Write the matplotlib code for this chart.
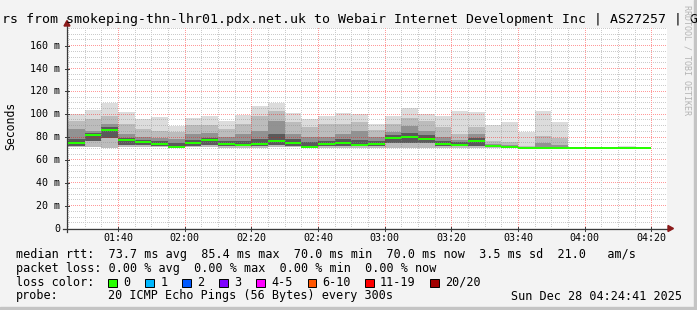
import numpy as np
import matplotlib
matplotlib.use("Agg")
import matplotlib.pyplot as plt
import matplotlib.patches as mpatches
from matplotlib.lines import Line2D

W, H = 697, 310
MONO = "DejaVu Sans Mono"


def fx(x):
    return x / W


def fy(y):
    return 1 - y / H


# 5 minute rrd steps, first one starts 01:25, graph covers 01:24:41 - 04:24:41
slot_start = 85
slot_len = 5
view_start = 84 + 41 / 60
view_end = view_start + 180

# median rtt per step (ms)
median = [74.2, 81.4, 85.4, 77.0, 75.3, 73.3, 71.3, 74.2, 76.8, 73.3,
          72.7, 73.3, 76.2, 74.5, 71.3, 73.3, 74.5, 72.7, 73.3, 78.8,
          79.7, 78.0, 73.3, 73.0, 76.2, 71.6, 71.3, 70.1, 70.1, 70.1,
          70.0, 70.0, 70.0, 70.0, 70.0]
# smoke: outermost to innermost band limits (ms)
ping_max = [99.5, 103.0, 109.5, 101.7, 95.0, 97.0, 89.0, 96.0, 98.0, 93.3,
            98.5, 107.0, 109.0, 101.0, 95.0, 98.0, 101.0, 100.0, 91.3, 98.0,
            105.2, 100.0, 98.0, 102.3, 101.4, 89.8, 92.7, 84.0, 102.3, 92.7,
            70.0, 70.0, 70.0, 72.0, 70.0]
upper2 = [94.0, 95.0, 98.0, 91.0, 86.6, 85.0, 84.0, 90.0, 90.0, 87.0,
          91.0, 98.0, 102.6, 92.4, 88.0, 91.0, 91.0, 93.0, 86.0, 91.0,
          96.5, 93.5, 88.0, 82.0, 88.0, 76.0, 75.0, 72.0, 80.6, 79.0,
          70.0, 70.0, 70.0, 70.0, 70.0]
upper3 = [86.6, 85.0, 91.0, 82.0, 79.5, 79.0, 78.0, 82.0, 83.0, 80.0,
          82.0, 85.0, 93.9, 82.0, 80.0, 80.0, 82.0, 85.0, 80.0, 84.0,
          89.0, 85.0, 80.0, 77.0, 82.0, 73.5, 73.0, 71.0, 74.0, 73.0,
          70.0, 70.0, 70.0, 70.0, 70.0]
upper4 = [78.0, 83.0, 88.0, 79.0, 77.0, 76.0, 74.0, 77.0, 79.0, 76.0,
          76.0, 78.0, 82.0, 77.5, 75.0, 76.0, 78.0, 77.0, 76.0, 81.0,
          83.0, 81.0, 76.0, 75.0, 79.0, 72.5, 72.0, 70.6, 71.0, 71.0,
          70.0, 70.0, 70.0, 70.0, 70.0]
lower_in = [72.0, 76.0, 79.0, 73.0, 72.5, 72.0, 70.5, 72.0, 73.0, 71.5,
            71.5, 71.5, 72.5, 72.0, 70.5, 71.5, 72.0, 71.5, 71.5, 74.0,
            74.0, 74.0, 71.5, 71.5, 72.0, 70.8, 70.6, 70.0, 70.0, 70.0,
            70.0, 70.0, 70.0, 70.0, 70.0]
ping_min = [70.5, 70.5, 70.0, 70.5, 71.0, 71.0, 70.0, 71.0, 71.0, 70.4,
            70.4, 70.0, 71.0, 71.0, 70.0, 70.4, 70.4, 70.4, 70.4, 70.4,
            70.4, 70.4, 70.4, 70.4, 70.4, 70.2, 70.2, 70.0, 70.0, 70.0,
            70.0, 70.0, 70.0, 70.0, 70.0]

tick_labels = ["01:40", "02:00", "02:20", "02:40", "03:00",
               "03:20", "03:40", "04:00", "04:20"]
tick_minutes = [int(t[:2]) * 60 + int(t[3:]) for t in tick_labels]

legend_rtt = ("median rtt:  73.7 ms avg  85.4 ms max  70.0 ms min  "
              "70.0 ms now  3.5 ms sd  21.0   am/s")
legend_loss = "packet loss: 0.00 % avg  0.00 % max  0.00 % min  0.00 % now"
loss_labels = ["0", "1", "2", "3", "4-5", "6-10", "11-19", "20/20"]
loss_colors = ["#26ff00", "#00b8ff", "#0059ff", "#7e00ff",
               "#ff00ff", "#ff5500", "#ff0000", "#a10000"]
loss_box_x = [108, 145.3, 182, 219, 256.4, 307.6, 365, 430]

fig = plt.figure(figsize=(W / 100, H / 100), dpi=100)
fig.patch.set_facecolor("#f3f3f3")

# graph area is 600 x 200 px, bottom edge on pixel row 228
GL, GB, GW, GH = 67, 228, 600, 200
rect = [fx(GL), fy(GB), GW / W, GH / H]


def setup(a):
    a.set_xlim(view_start, view_end)
    a.set_ylim(0, 175)
    for s in a.spines.values():
        s.set_visible(False)
    a.set_xticks([])
    a.set_yticks([])


ax = fig.add_axes(rect, zorder=0)
ax.set_facecolor("white")
setup(ax)

n = len(median)
x = slot_start + slot_len * np.arange(n)
med = np.array(median)
bands = [
    (ping_min, ping_max, "#dcdcdc"),
    (ping_min, upper2, "#bcbcbc"),
    (lower_in, upper3, "#929292"),
    (lower_in, upper4, "#5a5a5a"),
]
for lo, hi, col in bands:
    lo = np.array(lo)
    hi = np.array(hi)
    ax.bar(x, hi - lo, bottom=lo, width=slot_len, align="edge",
           color=col, linewidth=0)

# rrdtool style dotted grid, placed pixel exact over the smoke
grid = np.zeros((GH, GW, 4))
minor = (0.55, 0.55, 0.55, 0.45)
major = (1.0, 0.0, 0.0, 0.4)
for v in range(5, 176, 5):
    row = int(round(GH - v * GH / 175))
    if 0 <= row < GH:
        grid[row, ::2] = major if v % 20 == 0 else minor
for m in range(slot_start, int(view_end) + 1, 5):
    col = int(round((m - view_start) * GW / 180))
    if 0 <= col < GW:
        grid[::2, col] = major if m % 20 == 0 else minor
fig.figimage(grid, xo=GL, yo=H - GB, origin="upper", zorder=1)

# median line in a transparent axes above the grid
ax2 = fig.add_axes(rect, zorder=2)
ax2.patch.set_alpha(0)
setup(ax2)
ax2.bar(x, 1.75, bottom=med - 0.875, width=slot_len, align="edge",
        color="#26ff00", linewidth=0)

# axes with arrows
axis_col = "#3a3a3a"
arrow_col = "#8b1a1a"
fig.add_artist(Line2D([fx(63), fx(669)], [fy(228.5), fy(228.5)],
                      color=axis_col, lw=0.9, transform=fig.transFigure,
                      zorder=3))
fig.add_artist(Line2D([fx(67), fx(67)], [fy(231.5), fy(24)],
                      color=axis_col, lw=0.9, transform=fig.transFigure,
                      zorder=3))
fig.add_artist(mpatches.Polygon([[fx(673.5), fy(228.5)], [fx(668), fy(225.5)],
                                 [fx(668), fy(231.5)]], closed=True,
                                color=arrow_col, transform=fig.transFigure,
                                zorder=3))
fig.add_artist(mpatches.Polygon([[fx(67), fy(20.5)], [fx(64), fy(26)],
                                 [fx(70), fy(26)]], closed=True,
                                color=arrow_col, transform=fig.transFigure,
                                zorder=3))

# tick labels
for v in range(0, 161, 20):
    yy = 228.5 - v * GH / 175
    lab = "0" if v == 0 else "%d m" % v
    fig.text(fx(60), fy(yy), lab, ha="right", va="center",
             family=MONO, fontsize=7.2, color="black")
    fig.add_artist(Line2D([fx(65), fx(69)], [fy(yy), fy(yy)],
                          color=axis_col, lw=0.7, transform=fig.transFigure,
                          zorder=3))
for m, lab in zip(tick_minutes, tick_labels):
    xx = GL + (m - view_start) * GW / 180
    fig.text(fx(xx), fy(238.3), lab, ha="center", va="center",
             family=MONO, fontsize=7.2, color="black")
    fig.add_artist(Line2D([fx(xx), fx(xx)], [fy(226.5), fy(230.5)],
                          color=axis_col, lw=0.7, transform=fig.transFigure,
                          zorder=3))

# title (clipped by the canvas like the original)
fig.text(fx(1.5), fy(20), "rs from smokeping-thn-lhr01.pdx.net.uk to Webair "
         "Internet Development Inc | AS27257 | G", ha="left", va="center",
         family=MONO, fontsize=9.5, color="black")
fig.text(fx(10.5), fy(126), "Seconds", rotation=90, ha="center", va="center",
         family=MONO, fontsize=8.3, color="black")
fig.text(fx(687), fy(5), "RRDTOOL / TOBI OETIKER", rotation=270,
         ha="center", va="top", family=MONO, fontsize=6, color="#b4b4b4")

# legend rows
LEG = 8.5
fig.text(fx(16), fy(254.3), legend_rtt, ha="left", va="center",
         family=MONO, fontsize=LEG)
fig.text(fx(16), fy(268.3), legend_loss, ha="left", va="center",
         family=MONO, fontsize=LEG)
fig.text(fx(16), fy(282.3), "loss color:", ha="left", va="center",
         family=MONO, fontsize=LEG)
for lab, col, xx in zip(loss_labels, loss_colors, loss_box_x):
    fig.add_artist(mpatches.Rectangle((fx(xx), fy(287)), 8.5 / W, 8.5 / H,
                                      facecolor=col, edgecolor="black",
                                      lw=0.7, transform=fig.transFigure))
    fig.text(fx(xx + 15), fy(282.3), lab, ha="left", va="center",
             family=MONO, fontsize=LEG)
fig.text(fx(16), fy(296), "probe:", ha="left", va="center",
         family=MONO, fontsize=LEG)
fig.text(fx(108), fy(296), "20 ICMP Echo Pings (56 Bytes) every 300s",
         ha="left", va="center", family=MONO, fontsize=LEG)
fig.text(fx(682), fy(296), "Sun Dec 28 04:24:41 2025", ha="right",
         va="center", family=MONO, fontsize=LEG)

# frame shadow right / bottom
fig.add_artist(mpatches.Rectangle((fx(694), 0), 3 / W, 1, color="#c4c4c4",
                                  transform=fig.transFigure))
fig.add_artist(mpatches.Rectangle((0, 0), 1, 3 / H, color="#c4c4c4",
                                  transform=fig.transFigure))

fig.savefig("out.png", dpi=100, facecolor=fig.get_facecolor())
